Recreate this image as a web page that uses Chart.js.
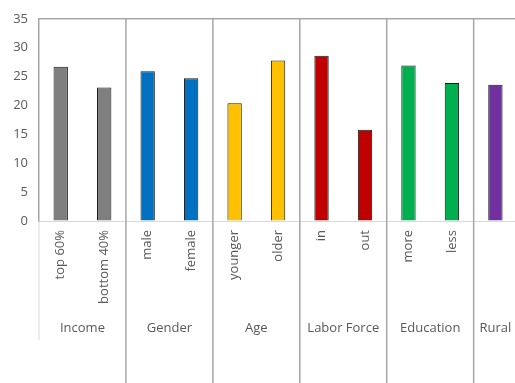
<!DOCTYPE html>
<html>
<head>
<meta charset="utf-8">
<script src="https://cdn.jsdelivr.net/npm/chart.js@4/dist/chart.umd.min.js"></script>
<style>
  html, body { margin: 0; padding: 0; overflow: hidden; background: #fff; }
  #wrap { width: 520px; height: 383px; }
</style>
</head>
<body>
<div id="wrap"><canvas id="canvas1"></canvas></div>
<script>
// categories and values
const labels = ['top 60%', 'bottom 40%', 'male', 'female', 'younger', 'older', 'in', 'out', 'more', 'less', ''];
const values = [26.7, 23.1, 25.9, 24.7, 20.4, 27.8, 28.6, 15.8, 26.9, 23.9, 23.6];
const groupNames = ['Income', 'Gender', 'Age', 'Labor Force', 'Education', 'Rural'];
const groupSizes = [2, 2, 2, 2, 2, 1];
const groupColors = ['#7f7f7f', '#0070c0', '#ffc000', '#c00000', '#00b050', '#7030a0'];

let barColors = [];
groupSizes.forEach((n, g) => {
    for (let i = 0; i < n; i++) barColors.push(groupColors[g]);
});

const font = "'Open Sans', 'Noto Sans', sans-serif";
const textColor = '#595959';

// group lines + group labels under the axis
const groupAxis = {
    id: 'groupAxis',
    afterDraw(chart) {
        const c = chart.ctx;
        const x = chart.scales.x;
        const area = chart.chartArea;
        const half = (x.getPixelForValue(1) - x.getPixelForValue(0)) / 2;
        c.save();
        // top border
        c.strokeStyle = '#a6a6a6';
        c.lineWidth = 1.5;
        c.beginPath();
        c.moveTo(area.left, area.top);
        c.lineTo(area.right + 5, area.top);
        c.stroke();
        // light line under the left edge
        c.strokeStyle = '#d9d9d9';
        c.lineWidth = 1;
        c.beginPath();
        c.moveTo(area.left, area.bottom);
        c.lineTo(area.left, 340);
        c.stroke();

        let idx = 0;
        c.font = '13px ' + font;
        c.fillStyle = textColor;
        c.textAlign = 'center';
        c.textBaseline = 'middle';
        groupSizes.forEach((n, g) => {
            const x0 = x.getPixelForValue(idx) - half;
            const x1 = x.getPixelForValue(idx + n - 1) + half;
            c.fillText(groupNames[g], (x0 + x1) / 2, 328);
            if (g > 0) {
                c.strokeStyle = '#a6a6a6';
                c.lineWidth = 1.5;
                c.beginPath();
                c.moveTo(x0, area.top);
                c.lineTo(x0, chart.height);
                c.stroke();
            }
            idx += n;
        });
        c.restore();
    }
};

const ctx = document.getElementById('canvas1');
const chart1 = new Chart(ctx, {
    type: 'bar',
    data: {
        labels: labels,
        datasets: [{
            data: values,
            backgroundColor: barColors,
            borderColor: '#1a1a1a',
            borderWidth: 1,
            barPercentage: 0.33,
            categoryPercentage: 1
        }]
    },
    options: {
        responsive: true,
        maintainAspectRatio: false,
        animation: false,
        layout: { padding: { top: 15, right: 0, left: 0, bottom: 0 } },
        plugins: { legend: { display: false }, tooltip: { enabled: false } },
        scales: {
            x: {
                grid: { display: false, drawTicks: false },
                border: { display: false },
                ticks: {
                    color: textColor,
                    font: { family: font, size: 13 },
                    minRotation: 90,
                    maxRotation: 90,
                    autoSkip: false,
                    padding: 9
                },
                afterFit(s) { s.height = 162; }
            },
            y: {
                min: 0,
                max: 35,
                grid: {
                    drawTicks: false,
                    color: (c) => c.tick.value === 0 ? '#d9d9d9' : 'rgba(0,0,0,0)'
                },
                border: { display: true, color: '#a6a6a6', width: 1.5 },
                ticks: {
                    stepSize: 5,
                    color: textColor,
                    font: { family: font, size: 13 },
                    padding: 11
                },
                afterFit(s) { s.width = 39; }
            }
        }
    },
    plugins: [groupAxis]
});
</script>
</body>
</html>
